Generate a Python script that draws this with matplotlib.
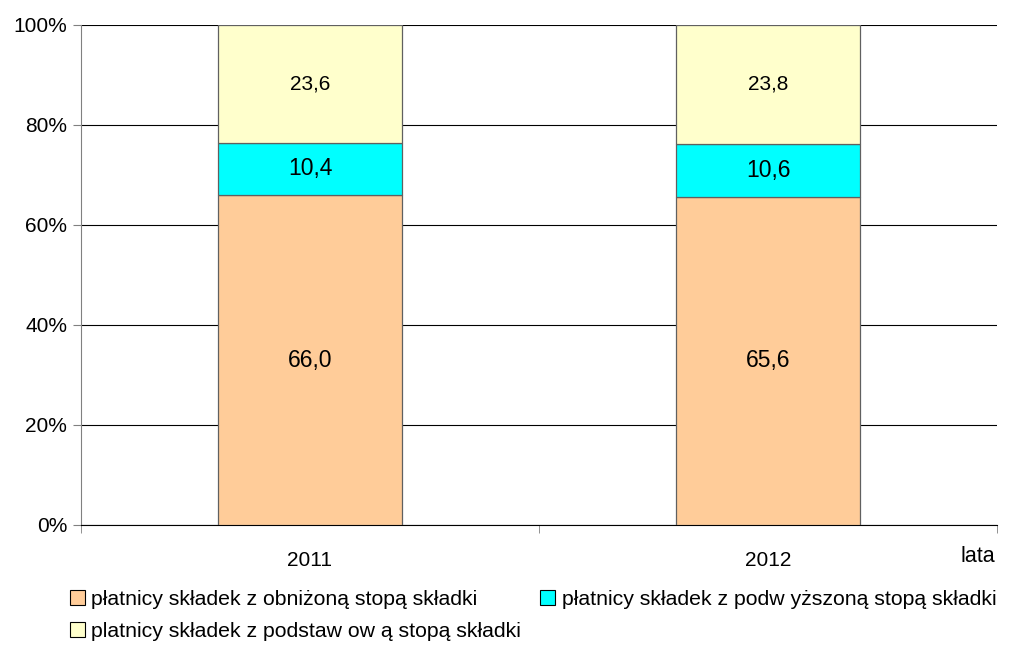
import matplotlib
matplotlib.use("Agg")
import matplotlib.pyplot as plt
from matplotlib.patches import Patch

plt.rcParams['font.family'] = ['Liberation Sans', 'DejaVu Sans']

years = ["2011", "2012"]
reduced = [66.0, 65.6]
increased = [10.4, 10.6]
basic = [23.6, 23.8]
series_labels = [
    "płatnicy składek z obniżoną stopą składki",
    "płatnicy składek z podw yższoną stopą składki",
    "platnicy składek z podstaw ow ą stopą składki",
]
colors = ["#FFCC99", "#00FFFF", "#FFFFCC"]
y_ticks = [0, 20, 40, 60, 80, 100]
y_tick_labels = ["0%", "20%", "40%", "60%", "80%", "100%"]

fig = plt.figure(figsize=(10.14, 6.47), dpi=100)
ax = fig.add_axes([81/1014, 1-525/647, (997-81)/1014, 500/647])

x = list(range(len(years)))
width = 0.4
bottoms = [0.0] * len(years)
label_sizes = [16.5, 16.5, 15]
for vals, col, fs in zip([reduced, increased, basic], colors, label_sizes):
    ax.bar(x, vals, width, bottom=bottoms, color=col, edgecolor="#606060",
           linewidth=0.9, zorder=3)
    for xi, v, b in zip(x, vals, bottoms):
        ax.text(xi, b + v / 2, f"{v:.1f}".replace(".", ","), ha="center",
                va="center", fontsize=fs, zorder=4)
    bottoms = [b + v for b, v in zip(bottoms, vals)]

ax.set_xlim(-0.5, 1.5)
ax.set_ylim(0, 100)
ax.set_yticks(y_ticks)
ax.set_yticklabels(y_tick_labels, fontsize=15)
ax.yaxis.grid(True, color="black", linewidth=0.8, zorder=0)
ax.set_axisbelow(True)

ax.set_xticks(x)
ax.set_xticklabels(years, fontsize=15)
ax.tick_params(axis="x", length=0, pad=19)
ax.set_xticks([-0.5, 0.5, 1.5], minor=True)
ax.tick_params(axis="x", which="minor", length=6, direction="out", color="#808080")
ax.tick_params(axis="y", length=6, direction="out", color="#808080", pad=4)

for s in ["top", "right"]:
    ax.spines[s].set_visible(False)
ax.spines["left"].set_color("#808080")
ax.spines["bottom"].set_color("black")

fig.text(995/1014, 1-556/647, "lata", ha="right", va="center", fontsize=15.5)

handles = [Patch(facecolor=c, edgecolor="black", linewidth=0.8) for c in colors]
order = [0, 2, 1]
leg = fig.legend([handles[i] for i in order], [series_labels[i] for i in order],
                 ncol=2, loc="upper left", bbox_to_anchor=(70/1014, 1-590/647),
                 frameon=False, fontsize=15.3, handlelength=0.7, handleheight=0.7,
                 handletextpad=0.3, columnspacing=0.9, labelspacing=0.6,
                 borderpad=0, borderaxespad=0)

fig.savefig("out.png", dpi=100)
